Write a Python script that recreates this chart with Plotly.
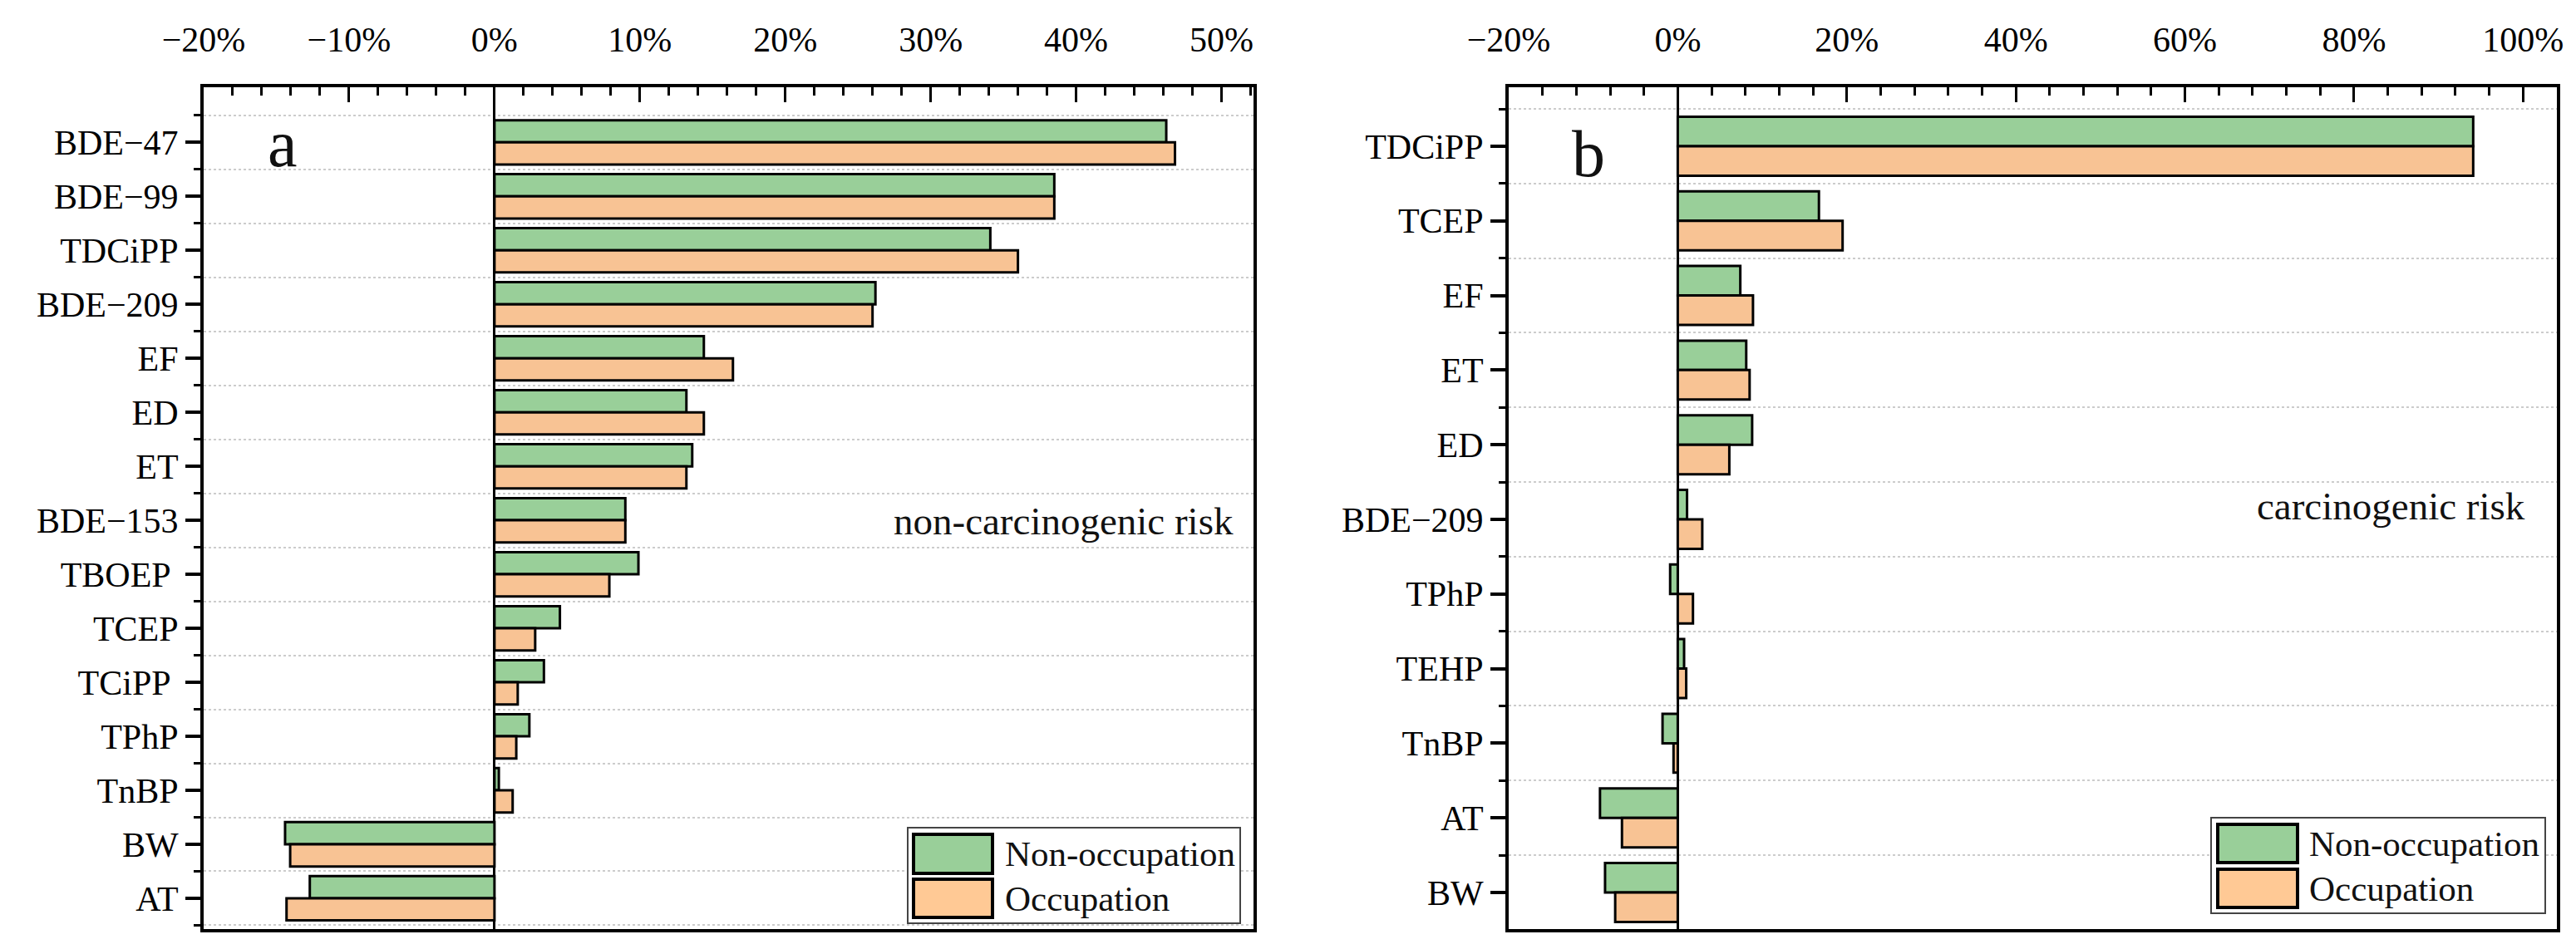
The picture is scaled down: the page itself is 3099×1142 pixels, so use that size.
import plotly.graph_objects as go
from plotly.subplots import make_subplots

# ---------------- data ----------------
series_names = ["Non-occupation", "Occupation"]

cats_a = ["BDE−47", "BDE−99", "TDCiPP", "BDE−209", "EF", "ED", "ET", "BDE−153",
          "TBOEP ", "TCEP", "TCiPP ", "TPhP", "TnBP", "BW", "AT"]
non_occ_a = [46.2, 38.5, 34.1, 26.2, 14.4, 13.2, 13.6, 9.0, 9.9, 4.5, 3.4, 2.4, 0.3, -14.4, -12.7]
occ_a = [46.8, 38.5, 36.0, 26.0, 16.4, 14.4, 13.2, 9.0, 7.9, 2.8, 1.6, 1.5, 1.25, -14.05, -14.3]

cats_b = ["TDCiPP", "TCEP", "EF", "ET", "ED", "BDE−209", "TPhP", "TEHP", "TnBP", "AT", "BW"]
non_occ_b = [94.1, 16.7, 7.4, 8.1, 8.8, 1.1, -0.9, 0.75, -1.8, -9.2, -8.6]
occ_b = [94.1, 19.5, 8.9, 8.5, 6.1, 2.9, 1.8, 1.0, -0.5, -6.6, -7.4]

panel_letters = ["a", "b"]
panel_texts = ["non-carcinogenic risk", "carcinogenic risk"]

# ---------------- style ----------------
W, H = 3099, 1142
FONT = "Liberation Serif"
GREEN = "#99CF99"
ORANGE = "#F8C394"
LEG_ORANGE = "#FFC995"


def px(x):
    return x / W


def py(y):
    return 1 - y / H


fig = make_subplots(rows=1, cols=2)

panels = [
    dict(cats=cats_a, s1=non_occ_a, s2=occ_a, w=0.41, yr_bot=0.57, yr_top=1.02,
         xr=[-20, 52.2], dtick=10, mdtick=2, dom=[px(237), px(1500)]),
    dict(cats=cats_b, s1=non_occ_b, s2=occ_b, w=0.395, yr_bot=0.49, yr_top=0.79,
         xr=[-20, 104], dtick=20, mdtick=4, dom=[px(1807), px(3068)]),
]

for i, p in enumerate(panels):
    col = i + 1
    n = len(p["cats"])
    ypos = list(range(n))
    fig.add_trace(go.Bar(
        y=ypos, x=p["s1"], orientation="h", name=series_names[0],
        marker=dict(color=GREEN, line=dict(color="black", width=3)),
        width=p["w"], offset=-p["w"], showlegend=False), row=1, col=col)
    fig.add_trace(go.Bar(
        y=ypos, x=p["s2"], orientation="h", name=series_names[1],
        marker=dict(color=ORANGE, line=dict(color="black", width=3)),
        width=p["w"], offset=0, showlegend=False), row=1, col=col)

    fig.update_xaxes(
        row=1, col=col, range=p["xr"], domain=p["dom"], side="top",
        dtick=p["dtick"], tick0=0, ticksuffix="%", automargin=False,
        ticks="inside", ticklen=18, tickwidth=3, tickcolor="black",
        ticklabelstandoff=22,
        minor=dict(dtick=p["mdtick"], ticks="inside", ticklen=10, tickwidth=3,
                   tickcolor="black", showgrid=False),
        showline=True, linecolor="black", linewidth=4, mirror=True,
        showgrid=False, zeroline=True, zerolinecolor="black", zerolinewidth=3,
        tickfont=dict(family=FONT, size=42, color="black"),
    )
    fig.update_yaxes(
        row=1, col=col, range=[n - 1 + p["yr_bot"], -p["yr_top"]],
        domain=[py(1110), py(97)], automargin=False,
        tickmode="array", tickvals=ypos, ticktext=p["cats"],
        ticks="outside", ticklen=18, tickwidth=4, tickcolor="black",
        minor=dict(tickvals=[k - 0.5 for k in range(n + 1)], ticks="outside",
                   ticklen=8, tickwidth=3, tickcolor="black",
                   showgrid=True, gridcolor="#cccccc", griddash="dot", gridwidth=2),
        showline=True, linecolor="black", linewidth=4, mirror=True,
        showgrid=False, zeroline=False,
        tickfont=dict(family=FONT, size=42, color="black"),
    )

annotations = []
shapes = []

# panel letters and labels
letter_pos = [(332, 165), (1903, 177)]
text_pos = [(1478, 619), (3032, 601)]
for i in range(2):
    annotations.append(dict(x=px(letter_pos[i][0]), y=py(letter_pos[i][1]), xref="paper", yref="paper",
                            text=panel_letters[i], showarrow=False, xanchor="center", yanchor="middle",
                            font=dict(family=FONT, size=80, color="#111")))
    annotations.append(dict(x=px(text_pos[i][0]), y=py(text_pos[i][1]), xref="paper", yref="paper",
                            text=panel_texts[i], showarrow=False, xanchor="right", yanchor="middle",
                            font=dict(family=FONT, size=47, color="#111")))

# custom legends (large swatches as in the reference)
legends = [
    dict(box=(1084, 988, 1484, 1103), sw_x=(1091, 1186), sw_y=[(996, 1043), (1050, 1096)],
         tx=1199, ty=[1019, 1073]),
    dict(box=(2652, 976, 3054, 1091), sw_x=(2660, 2756), sw_y=[(984, 1030), (1038, 1084)],
         tx=2768, ty=[1007, 1061]),
]
for lg in legends:
    x0, y0, x1, y1 = lg["box"]
    shapes.append(dict(type="rect", xref="paper", yref="paper", x0=px(x0), x1=px(x1), y0=py(y0), y1=py(y1),
                       line=dict(color="#444", width=2), fillcolor="white", layer="above"))
    for k, col in enumerate([GREEN, LEG_ORANGE]):
        sy0, sy1 = lg["sw_y"][k]
        shapes.append(dict(type="rect", xref="paper", yref="paper",
                           x0=px(lg["sw_x"][0]), x1=px(lg["sw_x"][1]), y0=py(sy0), y1=py(sy1),
                           line=dict(color="black", width=4), fillcolor=col, layer="above"))
        annotations.append(dict(x=px(lg["tx"]), y=py(lg["ty"][k]), xref="paper", yref="paper",
                                text=series_names[k], showarrow=False, xanchor="left", yanchor="middle",
                                font=dict(family=FONT, size=43, color="#111")))

fig.update_layout(
    width=W, height=H, margin=dict(l=0, r=0, t=0, b=0, pad=0, autoexpand=False),
    paper_bgcolor="white", plot_bgcolor="white",
    barmode="group", showlegend=False,
    annotations=annotations, shapes=shapes,
    font=dict(family=FONT, color="black"),
)

fig.write_html("out.html")
